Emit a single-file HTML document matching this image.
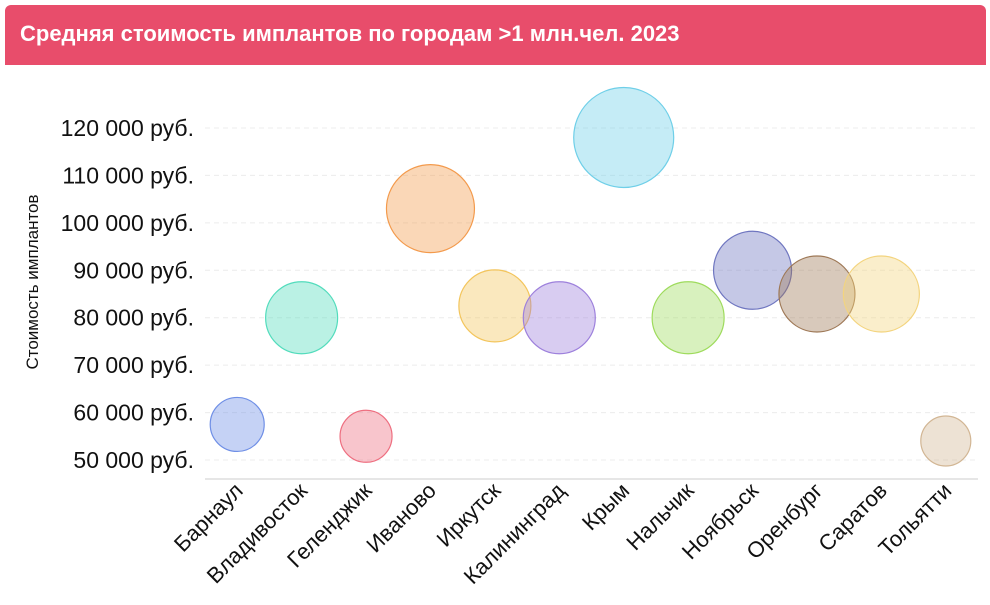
<!DOCTYPE html>
<html><head><meta charset="utf-8">
<style>
html,body{margin:0;padding:0;background:#fff;width:990px;height:605px;overflow:hidden;font-family:"Liberation Sans",sans-serif;}
#hdr{position:absolute;left:5px;top:5px;width:981px;height:60px;background:#e84d6b;border-radius:6px 6px 0 0;}
#hdr span{position:absolute;left:15px;top:16px;color:#fff;font-size:22px;font-weight:bold;}
svg{position:absolute;left:0;top:0;}
</style></head><body>
<div id="hdr"><span>Средняя стоимость имплантов по городам &gt;1 млн.чел. 2023</span></div>
<svg id="chart" width="990" height="605"></svg>
<script>
const categories=["Барнаул","Владивосток","Геленджик","Иваново","Иркутск","Калининград","Крым","Нальчик","Ноябрьск","Оренбург","Саратов","Тольятти"];
const prices=[57500,80000,55000,103000,82500,80000,118000,80000,90000,85000,85000,54000];
const sizes=[27,36,26,44,36,36,50,36,39,38,38,25];
const yTicks=[50000,60000,70000,80000,90000,100000,110000,120000];
const colors=["#6f8fe6","#52dcbc","#ee6f80","#f39a4c","#f3c55c","#9d80dc","#6fcfe8","#9edb5c","#6f76c0","#9e7856","#f3d47e","#d2b694"];
const svg=document.getElementById('chart');const NS="http://www.w3.org/2000/svg";
const x0=205,x1=978,yBase=460,yPer=(460-128)/70000;
const y=v=>yBase-(v-50000)*yPer;
const step=(x1-x0)/categories.length;
const x=i=>x0+step*(i+0.5);
function mk(t,a){const e=document.createElementNS(NS,t);for(const k in a)e.setAttribute(k,a[k]);svg.appendChild(e);return e;}
yTicks.forEach(v=>{
 const g=mk('line',{x1:x0,x2:x1,y1:y(v),y2:y(v),stroke:'#ececec','stroke-dasharray':'5,4'});
 
 
 const t=mk('text',{x:194,y:y(v)+8,'text-anchor':'end','font-size':'23',fill:'#111','font-family':'"Liberation Sans",sans-serif'});
 t.textContent=v.toLocaleString('ru-RU').replace(/\s/g,' ')+' руб.';
 
 
});
const ax=mk('line',{x1:x0,x2:x1,y1:479,y2:479,stroke:'#ccc'});


const yt=mk('text',{transform:'translate(38,282) rotate(-90)','text-anchor':'middle','font-size':'17',fill:'#111'});
yt.textContent='Стоимость имплантов';


categories.forEach((c,i)=>{
 const t=mk('text',{transform:`translate(${x(i)+7},492) rotate(-45)`,'text-anchor':'end','font-size':'22',fill:'#111'});
 t.textContent=c;
 
 
 const b=mk('circle',{cx:x(i),cy:y(prices[i]),r:sizes[i],fill:colors[i],'fill-opacity':0.4,stroke:colors[i],'stroke-width':1.2});
 
 
});
</script>
</body></html>
